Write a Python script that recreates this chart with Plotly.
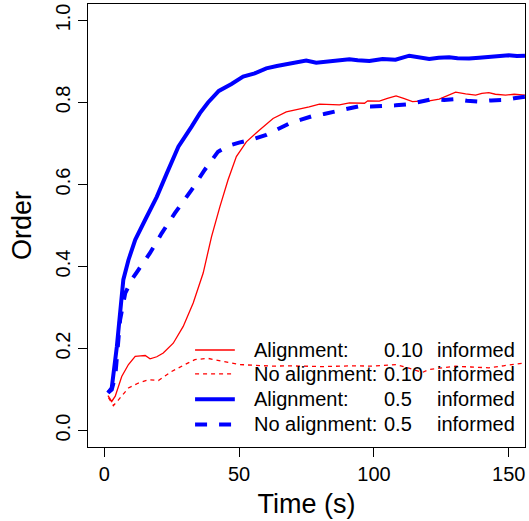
import plotly.graph_objects as go

# Alignment, 0.5 informed (solid blue)
al05_t = [1.4, 2.8, 4.7, 5.9, 7.1, 9.0, 11.5, 15.2, 19.5, 23.2, 27.5, 32.4, 35.5, 38.5, 42.5,
          47.2, 51.5, 55.8, 60.1, 64.0, 68.7, 74.9, 78.6, 84.7, 90.9, 94.0, 98.3, 103.2, 108.0,
          113.1, 116.0, 120.5, 124.0, 127.9, 131.0, 135.3, 139.0, 142.6, 146.0, 150.0, 153.0, 156.0]
al05_y = [0.092, 0.104, 0.205, 0.287, 0.368, 0.416, 0.465, 0.514, 0.570, 0.627, 0.692, 0.741, 0.774,
          0.800, 0.828, 0.845, 0.863, 0.871, 0.883, 0.889, 0.895, 0.902, 0.897, 0.902, 0.905, 0.903,
          0.901, 0.906, 0.904, 0.914, 0.911, 0.906, 0.909, 0.910, 0.908, 0.907, 0.909, 0.911, 0.913,
          0.915, 0.913, 0.914]

# No alignment, 0.5 informed (dashed blue)
noal05_t = [1.4, 2.8, 4.1, 5.9, 7.8, 10.2, 12.7, 17.0, 21.3, 26.2, 32.4, 37.3, 42.2, 45.9, 50.0,
            54.6, 60.1, 64.5, 68.7, 73.0, 77.3, 81.5, 86.0, 90.0, 94.6, 99.0, 103.2, 108.0, 113.1,
            117.0, 121.7, 126.0, 130.3, 134.5, 138.9, 143.5, 148.8, 152.0, 156.0]
noal05_y = [0.092, 0.100, 0.132, 0.270, 0.335, 0.368, 0.392, 0.433, 0.481, 0.530, 0.587, 0.636,
            0.680, 0.694, 0.702, 0.709, 0.721, 0.735, 0.749, 0.758, 0.767, 0.772, 0.779, 0.786,
            0.791, 0.790, 0.791, 0.793, 0.796, 0.802, 0.808, 0.806, 0.808, 0.804, 0.802, 0.805,
            0.806, 0.810, 0.814]

# Alignment, 0.10 informed (solid red)
al01_t = [1.4, 2.8, 4.1, 6.5, 9.0, 11.5, 13.5, 15.2, 17.0, 19.5, 21.9, 25.6, 29.3, 33.0, 36.7,
          39.8, 42.9, 45.9, 49.0, 52.7, 57.6, 62.6, 67.5, 72.4, 76.0, 79.8, 83.5, 87.2, 90.9, 93.4,
          96.5, 97.7, 102.0, 105.0, 108.2, 111.0, 114.3, 117.0, 120.5, 124.2, 127.0, 130.3, 134.0,
          137.7, 140.0, 142.6, 145.0, 148.8, 152.0, 156.0]
al01_y = [0.085, 0.071, 0.084, 0.132, 0.161, 0.181, 0.182, 0.183, 0.175, 0.180, 0.189, 0.213,
          0.254, 0.311, 0.384, 0.473, 0.546, 0.611, 0.668, 0.704, 0.733, 0.761, 0.777, 0.783,
          0.789, 0.796, 0.795, 0.794, 0.799, 0.799, 0.798, 0.804, 0.803, 0.810, 0.816, 0.810,
          0.802, 0.803, 0.804, 0.808, 0.815, 0.825, 0.821, 0.818, 0.822, 0.824, 0.820, 0.818,
          0.820, 0.818]

# No alignment, 0.10 informed (dashed red)
noal01_t = [1.6, 3.4, 5.3, 9.0, 12.7, 16.4, 20.1, 25.0, 29.9, 33.6, 38.5, 44.1, 50.3, 56.0, 62.6,
            68.0, 74.9, 81.0, 87.2, 93.0, 99.5, 104.0, 108.2, 113.0, 118.0, 120.5, 125.0, 130.3,
            136.0, 142.6, 148.0, 152.0, 156.0]
noal01_y = [0.080, 0.061, 0.075, 0.104, 0.116, 0.124, 0.122, 0.144, 0.161, 0.173, 0.176, 0.169,
            0.161, 0.159, 0.157, 0.158, 0.157, 0.156, 0.157, 0.158, 0.157, 0.159, 0.161, 0.152,
            0.142, 0.149, 0.153, 0.157, 0.155, 0.153, 0.158, 0.162, 0.165]

x_ticks = [0, 50, 100, 150]
y_ticks = [0.0, 0.2, 0.4, 0.6, 0.8, 1.0]
y_ticktext = ["0.0", "0.2", "0.4", "0.6", "0.8", "1.0"]

legend_rows = [
   ("Alignment:", "0.10", "informed"),
   ("No alignment:", "0.10", "informed"),
   ("Alignment:", "0.5", "informed"),
   ("No alignment:", "0.5", "informed"),
]

FONT = "Liberation Sans, Arial, sans-serif"
RED = "#ff0000"
BLUE = "#0000ff"

styles = [
   dict(color=RED, width=1.3, dash="solid"),
   dict(color=RED, width=1.3, dash="4px,4px"),
   dict(color=BLUE, width=4, dash="solid"),
   dict(color=BLUE, width=4, dash="12px,12px"),
]

fig = go.Figure()
for (t, y), st in zip([(al01_t, al01_y), (noal01_t, noal01_y), (al05_t, al05_y), (noal05_t, noal05_y)], styles):
   fig.add_trace(go.Scatter(x=t, y=y, mode="lines", line=st, showlegend=False, hoverinfo="skip"))

# hand-drawn legend, R style (no box)
row_y = [0.219, 0.165, 0.108, 0.051]
for (a, b, c), st, ry in zip(legend_rows, styles, row_y):
   fig.add_shape(type="line", xref="paper", yref="paper", x0=0.245, x1=0.336, y0=ry, y1=ry, line=st)
   for txt, xp in ((a, 0.376), (b, 0.672), (c, 0.795)):
      fig.add_annotation(x=xp, y=ry, xref="paper", yref="paper", text=txt, showarrow=False,
                         xanchor="left", yanchor="middle", font=dict(size=20, color="black", family=FONT))

axis_common = dict(showline=True, mirror=True, linecolor="black", linewidth=1, showgrid=False,
                   zeroline=False, ticks="outside", ticklen=9, tickwidth=1, tickcolor="black",
                   tickfont=dict(size=20, color="black", family=FONT))

fig.update_layout(
   width=529, height=521,
   margin=dict(l=88, r=4, t=4, b=74, autoexpand=False),
   paper_bgcolor="white", plot_bgcolor="white",
   font=dict(family=FONT, color="black"),
   xaxis=dict(range=[-6, 156], tickvals=x_ticks,
              title=dict(text="Time (s)", font=dict(size=27, family=FONT), standoff=10), **axis_common),
   yaxis=dict(range=[-0.04, 1.04], tickvals=y_ticks, ticktext=y_ticktext, tickangle=-90,
              title=dict(text="Order", font=dict(size=27, family=FONT), standoff=12), **axis_common),
)

fig.write_html("out.html", config={"displayModeBar": False},
               post_script="document.body.style.margin='0';")
